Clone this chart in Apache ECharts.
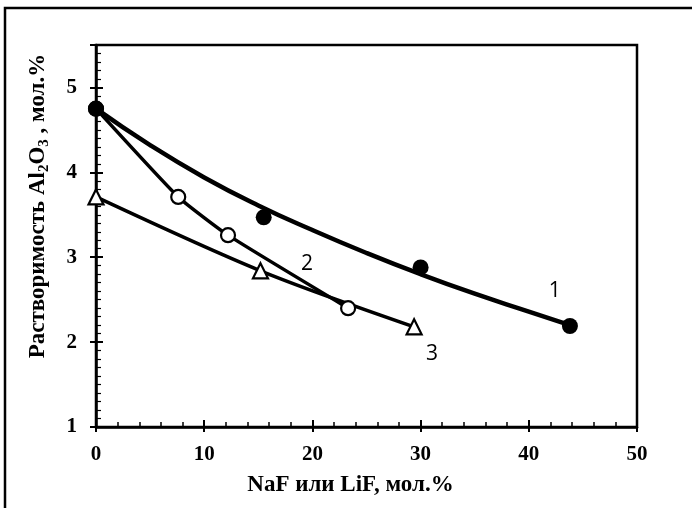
<!DOCTYPE html>
<html>
<head>
<meta charset="utf-8">
<script src="https://cdn.jsdelivr.net/npm/echarts@6/dist/echarts.min.js"></script>
<style>
html, body { margin: 0; padding: 0; background: #fff; }
#chart { width: 692px; height: 508px; }
</style>
</head>
<body>
<div id="chart"></div>
<script>
var curve1 = [[0, 4.75], [5, 4.32], [10, 3.94], [15, 3.61], [20, 3.32], [25, 3.05], [30, 2.80], [35, 2.57], [40, 2.36], [43.8, 2.2]];
// экспериментальные точки
var points1 = [[0, 4.75], [15.5, 3.47], [30, 2.88], [43.8, 2.19]];
var points2 = [[0, 4.75], [7.6, 3.71], [12.2, 3.26], [23.3, 2.40]];
var points3 = [[0, 3.71], [15.2, 2.84], [29.4, 2.18]];
// подписи кривых
var curveLabels = [[42.4, 2.6, '1'], [19.5, 2.92, '2'], [31.05, 1.86, '3']];

var myChart = echarts.init(document.getElementById('chart'));

var serif = '"Liberation Serif", "DejaVu Serif", serif';

var option = {
	animation: false,
	grid: {
		left: 96,
		top: 45,
		right: 55,
		bottom: 81,
		show: true,
		borderColor: '#000',
		borderWidth: 2.5
	},
	xAxis: [{
		type: 'value',
		min: 0,
		max: 50,
		interval: 10,
		position: 'bottom',
		axisLine: { lineStyle: { color: '#000', width: 2.5 } },
		axisTick: { inside: true, length: 7, lineStyle: { color: '#000', width: 2 } },
		minorTick: { show: true, splitNumber: 5, length: 5, lineStyle: { color: '#000', width: 1.5 } },
		splitLine: { show: false },
		axisLabel: { color: '#000', fontFamily: serif, fontWeight: 'bold', fontSize: 21, margin: 17 },
		name: 'NaF или LiF, мол.%',
		nameLocation: 'middle',
		nameGap: 47,
		nameTextStyle: { color: '#000', fontFamily: serif, fontWeight: 'bold', fontSize: 23, padding: [0, 32, 0, 0] }
	}, {
		type: 'value',
		min: 0,
		max: 50,
		interval: 10,
		position: 'bottom',
		axisLine: { show: false },
		axisTick: { inside: false, length: 5, lineStyle: { color: '#000', width: 2 } },
		axisLabel: { show: false },
		splitLine: { show: false }
	}],
	yAxis: [{
		type: 'value',
		min: 1,
		max: 5.5,
		interval: 1,
		position: 'left',
		axisLine: { lineStyle: { color: '#000', width: 2.5 } },
		axisTick: { inside: true, length: 7, lineStyle: { color: '#000', width: 2 } },
		minorTick: { show: true, splitNumber: 10, length: 5, lineStyle: { color: '#000', width: 1.2 } },
		splitLine: { show: false },
		axisLabel: { color: '#000', fontFamily: serif, fontWeight: 'bold', fontSize: 21, margin: 19, showMaxLabel: false },
		name: '{n|Растворимость Al}{s|2}{n|O}{s|3}{n| , мол.%}',
		nameLocation: 'middle',
		nameGap: 44,
		nameTextStyle: {
			padding: [0, 0, 0, 60],
			rich: {
				n: { color: '#000', fontFamily: serif, fontWeight: 'bold', fontSize: 23, lineHeight: 28, verticalAlign: 'middle' },
				s: { color: '#000', fontFamily: serif, fontWeight: 'bold', fontSize: 15, lineHeight: 28, verticalAlign: 'bottom' }
			}
		}
	}, {
		type: 'value',
		min: 1,
		max: 5.5,
		interval: 1,
		position: 'left',
		axisLine: { show: false },
		axisTick: { inside: false, length: 6, lineStyle: { color: '#000', width: 2 } },
		axisLabel: { show: false },
		splitLine: { show: false }
	}],
	series: [{
		name: 'curve1',
		type: 'line',
		data: curve1,
		smooth: true,
		showSymbol: false,
		lineStyle: { color: '#000', width: 4.5 },
		z: 2
	}, {
		name: '2',
		type: 'line',
		data: points2,
		smooth: 0.15,
		symbol: 'circle',
		symbolSize: 14,
		itemStyle: { color: '#fff', borderColor: '#000', borderWidth: 2.2, opacity: 1 },
		lineStyle: { color: '#000', width: 3.5 },
		z: 3
	}, {
		name: '3',
		type: 'line',
		data: points3,
		smooth: 0.3,
		symbol: 'triangle',
		symbolSize: 15,
		itemStyle: { color: '#fff', borderColor: '#000', borderWidth: 2.2, opacity: 1 },
		lineStyle: { color: '#000', width: 3.5 },
		z: 3
	}, {
		name: '1',
		type: 'scatter',
		data: points1,
		symbol: 'circle',
		symbolSize: 16,
		itemStyle: { color: '#000', opacity: 1 },
		z: 5
	}, {
		name: 'labels',
		type: 'scatter',
		data: curveLabels.map(function(item) {
			return { value: [item[0], item[1]], name: item[2] };
		}),
		symbolSize: 0,
		silent: true,
		itemStyle: { opacity: 1 },
		label: {
			show: true,
			position: 'inside',
			formatter: '{b}',
			color: '#000',
			opacity: 1,
			fontFamily: '"Open Sans", "Noto Sans", sans-serif',
			fontSize: 21
		},
		z: 6
	}],
	graphic: [{
		type: 'rect',
		shape: { x: 5, y: 8, width: 720, height: 540 },
		style: { fill: null, stroke: '#000', lineWidth: 2.5 },
		silent: true
	}]
};

myChart.setOption(option);
</script>
</body>
</html>
